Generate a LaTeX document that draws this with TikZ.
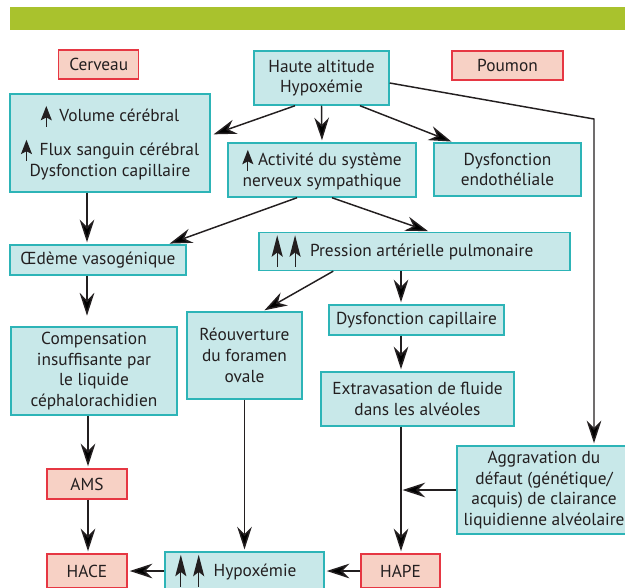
\documentclass[tikz,border=0pt]{standalone}
\usepackage{fontspec}
\setmainfont{PT Sans}
\usetikzlibrary{arrows.meta, calc}
\definecolor{cteal}{HTML}{2DB4B7}
\definecolor{cpale}{HTML}{C8E8E9}
\definecolor{cred}{HTML}{E63743}
\definecolor{cpink}{HTML}{F7D1C5}
\definecolor{cgreen}{HTML}{A9C22D}
\definecolor{cink}{HTML}{231F20}
% small filled up-arrow used inside the boxes
\newcommand{\hausse}[1][1]{\tikz[baseline={4pt*(#1-1)}, yscale=#1]{\fill[cink] (0pt,12pt) -- (-4.2pt,1.2pt) -- (0pt,3.4pt) -- (4.2pt,1.2pt) -- cycle; \draw[cink, line width=0.7pt] (0pt,4pt) -- (0pt,-4pt);}}
\tikzset{
  every picture/.style={font=\fontsize{13}{15.5}\selectfont, text=cink},
  box/.style={draw=cteal, fill=cpale, line width=1.1pt, align=center, inner sep=2pt},
  alert/.style={draw=cred, fill=cpink, line width=1.1pt, align=center, inner sep=2pt},
  dims/.style 2 args={minimum width={#1*0.75pt}, minimum height={#2*0.75pt}},
  arrow/.style={-{Stealth[length=17pt, width=11pt, inset=5.5pt]}, draw=cink, line width=1.1pt, shorten >=1.5pt},
}

\begin{document}
\begin{tikzpicture}[x=0.75pt, y=-0.75pt]
  \useasboundingbox (0,0) rectangle (625,587);
  \fill[cgreen] (10,7) rectangle (625,30);
  % top row
  \node[alert, dims={80}{29}] (cerveau) at (98.7,64.5) {Cerveau};
  \node[box, dims={135}{54}] (haute) at (321.5,78) {Haute altitude\\Hypoxémie};
  \node[alert, dims={111}{29}] (poumon) at (507.5,65.5) {Poumon};
  % second row
  \node[box, dims={200}{98}] (volume) at (110,143) {\hausse\,\ Volume cérébral\\[8pt]\hausse\,\ Flux sanguin cérébral\\Dysfonction capillaire};
  \node[box, dims={188}{54}] (activite) at (322,170) {\hausse\ Activité du système\\nerveux sympathique};
  \node[box, dims={147}{53}] (endo) at (507.5,169.5) {Dysfonction\\endothéliale};
  \node[box, dims={176}{30}] (oedeme) at (98,260) {Œdème vasogénique};
  \node[box, dims={311}{35}] (pression) at (414.5,251.5) {\hausse[1.5]\hspace{5pt}\hausse[1.5]\hspace{7pt}Pression artérielle pulmonaire\hspace{18pt}};
  % middle
  \node[box, dims={166}{88}] (compens) at (94,371) {Compensation\\insuffisante par\\le liquide\\céphalorachidien};
  \node[box, dims={115}{87}] (reouv) at (244.5,355.5) {Réouverture\\du foramen\\ovale};
  \node[box, dims={175}{30}] (dyscap) at (416.5,320) {Dysfonction capillaire};
  \node[box, dims={193}{54}] (extrav) at (417.5,399) {Extravasation de fluide\\dans les alvéoles};
  \node[box, dims={174}{88}] (aggrav) at (544,490) {Aggravation du\\défaut (génétique/\\acquis) de clairance\\liquidienne alvéolaire};
  % bottom
  \node[alert, dims={80}{30}] (ams) at (87,484) {AMS};
  \node[alert, dims={80}{34}] (hace) at (87,571) {HACE};
  \node[box, dims={159}{34}] (hypox) at (244.5,571) {\hausse[1.5]\hspace{5pt}\hausse[1.5]\hspace{7pt}Hypoxémie\hspace{13pt}};
  \node[alert, dims={79}{34}] (hape) at (400.5,571) {HAPE};
  % connectors
  \coordinate (coude) at (594,119);
  \draw[arrow] ($(haute.south)+(-26.5,0)$) -- ($(volume.east)+(1,-8)$);
  \draw[arrow] (haute.south) -- (activite.north);
  \draw[arrow] ($(haute.south)+(38.5,0)$) -- ($(endo.north west)+(20,0)$);
  \draw[arrow] ($(haute.east)+(0,5)$) -- (coude) -- (coude |- aggrav.north);
  \draw[arrow] ($(volume.south)+(-23,0)$) -- ($(oedeme.north)+(-11,0)$);
  \draw[arrow] ($(activite.south)+(-25,0)$) -- ($(oedeme.north east)+(-19,0)$);
  \draw[arrow] ($(activite.south)+(10,0)$) -- ($(pression.north)+(15.5,0)$);
  \draw[arrow, shorten >=8pt] ($(oedeme.south)+(-11,0)$) -- ($(compens.north)+(-7,0)$);
  \draw[arrow] ($(pression.south west)+(75,0)$) -- ($(reouv.north east)+(-40,0)$);
  \draw[arrow] ($(pression.south)+(-13.5,0)$) -- ($(dyscap.north)+(-15.5,0)$);
  \draw[arrow] ($(dyscap.south)+(-15.5,0)$) -- ($(extrav.north)+(-16.5,0)$);
  \draw[arrow] ($(compens.south)+(-6,0)$) -- ($(ams.north)+(1,0)$);
  \draw[arrow] ($(ams.south)+(1,0)$) -- ($(hace.north)+(1,0)$);
  \draw[arrow] (reouv.south) -- (hypox.north);
  \draw[arrow] ($(extrav.south)+(-16.5,0)$) -- ($(hape.north)+(0.5,0)$);
  \draw[arrow] (aggrav.west) -- (aggrav.west -| hape.north);
  \draw[arrow] (hape.west) -- (hypox.east);
  \draw[arrow] (hypox.west) -- (hace.east);
\end{tikzpicture}
\end{document}
